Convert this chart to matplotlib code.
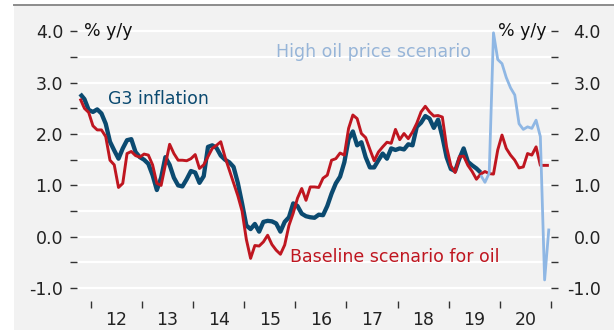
import numpy as np
import pandas as pd
import matplotlib
matplotlib.use("Agg")
import matplotlib.pyplot as plt
from matplotlib.patches import Rectangle
from matplotlib.ticker import MultipleLocator, FixedLocator, NullFormatter

plt.rcParams['font.family'] = ['DejaVu Sans']

NAVY = '#0b4a70'
RED = '#bf1620'
LIGHT = '#8fb7e4'
PANEL = '#f2f2f2'
FS = 12.5

# G3 inflation, % y/y, monthly from Oct 2011
g3_start = '2011-10'
g3_inflation = [
    2.78, 2.68, 2.47,
    2.43, 2.48, 2.40, 2.20, 1.85, 1.68, 1.52, 1.72, 1.88, 1.90, 1.65, 1.55,
    1.50, 1.42, 1.20, 0.91, 1.15, 1.55, 1.40, 1.15, 1.00, 0.98, 1.12, 1.28,
    1.25, 1.05, 1.18, 1.75, 1.78, 1.73, 1.58, 1.50, 1.45, 1.36, 1.05, 0.65,
    0.22, 0.15, 0.25, 0.10, 0.29, 0.31, 0.30, 0.26, 0.10, 0.29, 0.38, 0.65,
    0.60, 0.45, 0.40, 0.38, 0.37, 0.43, 0.42, 0.60, 0.84, 1.04, 1.17, 1.45,
    1.90, 2.05, 1.78, 1.84, 1.55, 1.35, 1.35, 1.49, 1.62, 1.52, 1.72, 1.69,
    1.72, 1.70, 1.80, 1.78, 2.14, 2.22, 2.35, 2.30, 2.12, 2.28, 1.95, 1.55,
    1.32, 1.28, 1.52, 1.72, 1.46, 1.39, 1.33, 1.25,
]

# Baseline scenario for oil, monthly from Oct 2011
base_start = '2011-10'
baseline = [
    2.69, 2.50, 2.42,
    2.16, 2.08, 2.08, 1.95, 1.49, 1.40, 0.96, 1.04, 1.62, 1.66, 1.58, 1.55,
    1.61, 1.59, 1.40, 1.04, 1.00, 1.40, 1.80, 1.62, 1.49, 1.49, 1.48, 1.52,
    1.60, 1.33, 1.40, 1.56, 1.72, 1.78, 1.85, 1.55, 1.30, 1.05, 0.80, 0.50,
    -0.05, -0.42, -0.17, -0.18, -0.10, 0.03, -0.15, -0.26, -0.34, -0.16, 0.22, 0.46,
    0.75, 0.94, 0.71, 0.97, 0.97, 0.96, 1.14, 1.20, 1.49, 1.52, 1.63, 1.59,
    2.11, 2.37, 2.30, 2.01, 1.93, 1.70, 1.48, 1.65, 1.75, 1.84, 1.82, 2.09,
    1.89, 2.01, 1.91, 2.04, 2.21, 2.43, 2.54, 2.43, 2.35, 2.36, 2.33, 1.75,
    1.38, 1.25, 1.56, 1.57, 1.39, 1.27, 1.12, 1.22, 1.27, 1.23, 1.22, 1.69,
    1.98, 1.72, 1.59, 1.49, 1.34, 1.36, 1.62, 1.59, 1.75, 1.39, 1.39, 1.39,
]

# High oil price scenario, monthly from Aug 2019
high_start = '2019-08'
high_oil = [
    1.20, 1.06, 1.24, 3.97, 3.45, 3.37, 3.10, 2.90, 2.76, 2.20, 2.09, 2.14,
    2.11, 2.27, 1.95, -0.84, 0.16,
]

year_labels = ['12', '13', '14', '15', '16', '17', '18', '19', '20']


def to_years(start, n):
    p = pd.period_range(start, periods=n, freq='M')
    return p.year + (p.month - 0.5) / 12.0


fig = plt.figure(figsize=(6.14, 3.3), dpi=100, facecolor='white')
fig.patches.append(Rectangle((14 / 614, 0), 1 - 14 / 614, 325 / 330,
                             transform=fig.transFigure, facecolor=PANEL,
                             edgecolor='none', zorder=-10))
fig.lines.append(plt.Line2D([14 / 614, 1], [325 / 330, 325 / 330],
                            transform=fig.transFigure, color='#8c8c8c',
                            lw=1.4, zorder=-9))

ax = fig.add_axes([77 / 614, 29 / 330, (551 - 77) / 614, (301 - 21) / 330])
ax.set_facecolor(PANEL)
ax.set_xlim(2011.73, 2021.0)
ax.set_ylim(-1.25, 4.2)

for v in np.arange(-1.0, 4.01, 0.5):
    ax.axhline(v, color='white', lw=1.6, zorder=1)

ax.plot(to_years(g3_start, len(g3_inflation)), g3_inflation, color=NAVY,
        lw=3.1, solid_joinstyle='round', solid_capstyle='butt', zorder=3)
ax.plot(to_years(base_start, len(baseline)), baseline, color=RED,
        lw=2.1, solid_joinstyle='round', solid_capstyle='butt', zorder=4)
ax.plot(to_years(high_start, len(high_oil)), high_oil, color=LIGHT,
        lw=2.0, solid_joinstyle='round', solid_capstyle='butt', zorder=5)

for s in ax.spines.values():
    s.set_visible(False)

# left y axis
ax.yaxis.set_major_locator(MultipleLocator(1.0))
ax.yaxis.set_minor_locator(MultipleLocator(0.5))
ax.yaxis.set_major_formatter(lambda v, p: f'{v:.1f}')
ax.tick_params(axis='y', which='both', length=5, width=1.0, color='#333333',
               labelsize=FS, labelcolor='#222222', pad=5)

# right y axis, labels right-aligned
ax2 = ax.twinx()
ax2.set_ylim(ax.get_ylim())
for s in ax2.spines.values():
    s.set_visible(False)
ax2.yaxis.set_major_locator(MultipleLocator(1.0))
ax2.yaxis.set_minor_locator(MultipleLocator(0.5))
ax2.yaxis.set_major_formatter(lambda v, p: f'{v:.1f}')
ax2.tick_params(axis='y', which='both', length=5, width=1.0, color='#333333',
                labelsize=FS, labelcolor='#222222', pad=31)
for lab in ax2.get_yticklabels():
    lab.set_horizontalalignment('right')

# x axis: ticks at year boundaries, labels centred in each year
ax.xaxis.set_major_locator(FixedLocator(np.arange(2012, 2022)))
ax.xaxis.set_major_formatter(NullFormatter())
ax.xaxis.set_minor_locator(FixedLocator(np.arange(2012, 2021) + 0.5))
ax.set_xticklabels(year_labels, minor=True)
ax.tick_params(axis='x', which='major', length=5, width=1.0, color='#333333')
ax.tick_params(axis='x', which='minor', length=0, pad=7.5, labelsize=FS,
               labelcolor='#222222')

ax.text(0.015, 4.0, '% y/y', transform=ax.get_yaxis_transform(),
        ha='left', va='center', fontsize=FS, color='#111111')
ax.text(0.99, 4.0, '% y/y', transform=ax.get_yaxis_transform(),
        ha='right', va='center', fontsize=FS, color='#111111')
ax.text(2012.34, 2.68, 'G3 inflation', fontsize=FS, color=NAVY,
        ha='left', va='center')
ax.text(2015.62, 3.6, 'High oil price scenario', fontsize=FS,
        color='#97b5d8', ha='left', va='center')
ax.text(2015.9, -0.39, 'Baseline scenario for oil', fontsize=FS, color=RED,
        ha='left', va='center')

fig.savefig('out.png', dpi=100, facecolor=fig.get_facecolor())
